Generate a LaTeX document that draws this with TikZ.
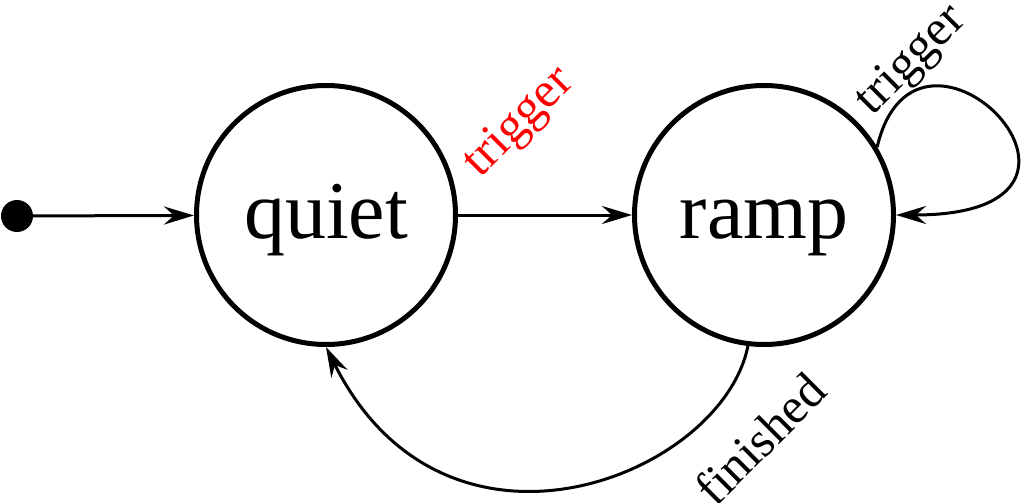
\documentclass[tikz,border=0pt]{standalone}
\usepackage{fontspec}
\setmainfont{Liberation Serif}
\usetikzlibrary{arrows.meta}
\tikzset{
  state/.style={draw,circle,line width=5pt,minimum size=259pt,inner sep=0pt,
    text height=62pt,text depth=16pt,font=\fontsize{82}{98}\selectfont},
  tr/.style={line width=3pt,-{Stealth[length=30pt,width=18pt,inset=10pt]}},
  lbl/.style={rotate=45,inner sep=0pt,font=\fontsize{50}{60}\selectfont}
}
\begin{document}
\begin{tikzpicture}[x=1pt,y=-1pt]
  \useasboundingbox (0,0) rectangle (1023,503);
  \node[state] (quiet) at (326,215) {quiet};
  \node[state] (ramp) at (764,215) {ramp};
  \node[circle,fill,minimum size=32pt,inner sep=0pt] (init) at (17,216) {};

  \draw[tr] (init) -- (quiet);
  \draw[tr] (quiet) -- (ramp);
  \draw[tr] (ramp.31) .. controls +(40,-170) and +(255,0) .. (ramp.east);
  \draw[tr] (ramp.263) .. controls +(-26,130) and +(120,240) .. (quiet.270);

  \node[lbl,red] (trigq) at (520,123) {trigger};
  \node[lbl] (trigr) at (912,61) {trigger};
  \node[lbl] (fin) at (760,439) {finished};
\end{tikzpicture}
\end{document}
